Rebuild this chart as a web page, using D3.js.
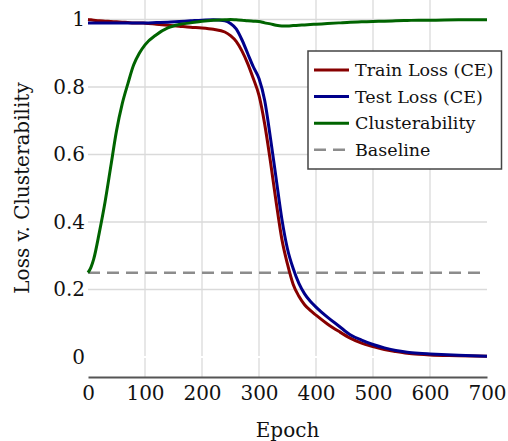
<!DOCTYPE html>
<html>
<head>
<meta charset="utf-8">
<script src="https://cdn.jsdelivr.net/npm/d3@7"></script>
<style>
  body { margin: 0; background: #fff; }
  svg text { font-family: "DejaVu Serif", serif; fill: #111; }
</style>
</head>
<body>
<svg width="508" height="441"></svg>
<script>
// loss vs clusterability over training epochs

var epochs = [0, 5, 10, 20, 30, 40, 50, 60, 70, 80, 90, 100, 120, 140, 160, 180, 200, 220, 240, 250,
              260, 270, 280, 290, 300, 310, 320, 330, 340, 350, 360, 370, 380, 390, 400, 420, 440,
              460, 480, 500, 520, 540, 560, 580, 600, 650, 700];

var trainLoss = [1.0, 0.999, 0.998, 0.996, 0.995, 0.994, 0.993, 0.992, 0.991, 0.99, 0.99, 0.989, 0.986,
                 0.983, 0.98, 0.977, 0.975, 0.971, 0.963, 0.952, 0.935, 0.907, 0.87, 0.825, 0.775,
                 0.69, 0.58, 0.46, 0.35, 0.275, 0.215, 0.18, 0.155, 0.138, 0.124, 0.098, 0.076,
                 0.056, 0.041, 0.031, 0.022, 0.016, 0.011, 0.008, 0.006, 0.004, 0.002];

var testLoss = [0.99, 0.99, 0.99, 0.99, 0.99, 0.99, 0.99, 0.99, 0.99, 0.99, 0.99, 0.99, 0.991,
                0.992, 0.994, 0.996, 0.998, 0.999, 0.996, 0.988, 0.972, 0.94, 0.9, 0.86, 0.825,
                0.76, 0.65, 0.53, 0.41, 0.32, 0.262, 0.218, 0.187, 0.165, 0.148, 0.118, 0.092,
                0.066, 0.05, 0.037, 0.027, 0.019, 0.014, 0.011, 0.009, 0.005, 0.002];

var clusterability = [0.25, 0.265, 0.29, 0.37, 0.46, 0.565, 0.67, 0.75, 0.81, 0.865, 0.9, 0.925, 0.955,
                      0.975, 0.985, 0.99, 0.995, 0.998, 0.999, 1.0, 0.999, 0.998, 0.996, 0.995, 0.994,
                      0.99, 0.987, 0.983, 0.981, 0.981, 0.982, 0.983, 0.984, 0.985, 0.986, 0.988, 0.99,
                      0.992, 0.993, 0.994, 0.995, 0.996, 0.997, 0.998, 0.998, 0.999, 0.999];

var baseline = 0.25;

var xTicks = [0, 100, 200, 300, 400, 500, 600, 700];
var yTicks = [0, 0.2, 0.4, 0.6, 0.8, 1];

var seriesNames = ["Train Loss (CE)", "Test Loss (CE)", "Clusterability", "Baseline"];
var seriesColors = ["#870000", "#00008b", "#006400", "#8c8c8c"];

var svg = d3.select("svg");

// scales
var xScale = d3.scaleLinear().domain([0, 700]).range([88, 487]),
    yScale = d3.scaleLinear().domain([0, 1]).range([357, 19.5]);

var yTop = yScale.invert(0),
    yBottom = yScale.invert(377);

// grid
var grid = svg.append("g");

grid.selectAll("line.vgrid")
    .data(xTicks.filter(function(d) { return d > 0 && d < 700; }))
    .enter().append("line")
    .attr("class", "vgrid")
    .attr("x1", function(d) { return xScale(d); })
    .attr("x2", function(d) { return xScale(d); })
    .attr("y1", yScale(yTop))
    .attr("y2", yScale(yBottom))
    .attr("stroke", "#dadada")
    .attr("stroke-width", 1.3);

grid.selectAll("line.hgrid")
    .data(yTicks)
    .enter().append("line")
    .attr("class", "hgrid")
    .attr("x1", xScale(0))
    .attr("x2", xScale(700))
    .attr("y1", function(d) { return yScale(d); })
    .attr("y2", function(d) { return yScale(d); })
    .attr("stroke", function(d) { return d === 0 ? "#fff" : "#dadada"; })
    .attr("stroke-width", function(d) { return d === 0 ? 2 : 1.3; });

// x axis
var xAxis = d3.axisBottom(xScale).tickValues(xTicks).tickSize(0).tickPadding(9)
              .tickFormat(d3.format("d"));

var xAxisG = svg.append("g")
    .attr("transform", "translate(0," + 377 + ")")
    .call(xAxis);

xAxisG.select(".domain").attr("stroke", "#555").attr("stroke-width", 2);
xAxisG.selectAll("text").attr("font-size", 20).attr("font-family", "DejaVu Serif").attr("fill", "#111");

// y axis
var yAxis = d3.axisLeft(yScale).tickValues(yTicks).tickSize(0).tickPadding(3)
              .tickFormat(function(d) { return d === 0 || d === 1 ? d3.format("d")(d) : d3.format(".1f")(d); });

var yAxisG = svg.append("g")
    .attr("transform", "translate(" + 88 + ",0)")
    .call(yAxis);

yAxisG.select(".domain").remove();
yAxisG.selectAll("text").attr("font-size", 20).attr("font-family", "DejaVu Serif").attr("fill", "#111");

// axis titles
svg.append("text")
   .attr("x", (xScale(0) + xScale(700)) / 2)
   .attr("y", 437)
   .attr("text-anchor", "middle")
   .attr("font-size", 20)
   .text("Epoch");

svg.append("text")
   .attr("transform", "translate(29," + 188 + ") rotate(-90)")
   .attr("text-anchor", "middle")
   .attr("font-size", 20)
   .text("Loss v. Clusterability");

// lines
var line = function(values) {
    return d3.line()
        .x(function(d, i) { return xScale(epochs[i]); })
        .y(function(d) { return yScale(d); })
        .curve(d3.curveMonotoneX)(values);
};

svg.append("line")
   .attr("x1", xScale(0))
   .attr("x2", xScale(700))
   .attr("y1", yScale(baseline))
   .attr("y2", yScale(baseline))
   .attr("stroke", seriesColors[3])
   .attr("stroke-width", 2.5)
   .attr("stroke-dasharray", "12,7");

[trainLoss, testLoss, clusterability].forEach(function(values, i) {
    svg.append("path")
       .attr("d", line(values))
       .attr("fill", "none")
       .attr("stroke", seriesColors[i])
       .attr("stroke-width", 3)
       .attr("stroke-linejoin", "round");
});

// legend
var legend = svg.append("g");

legend.append("rect")
      .attr("x", 308)
      .attr("y", 51)
      .attr("width", 193.5)
      .attr("height", 118)
      .attr("fill", "#fff")
      .attr("stroke", "#444")
      .attr("stroke-width", 1.5);

var rows = legend.selectAll("g.row")
    .data(seriesNames)
    .enter().append("g")
    .attr("class", "row")
    .attr("transform", function(d, i) { return "translate(0," + (70 + i * 26.6) + ")"; });

rows.append("line")
    .attr("x1", 314)
    .attr("x2", 349)
    .attr("stroke", function(d, i) { return seriesColors[i]; })
    .attr("stroke-width", function(d, i) { return i === 3 ? 2.5 : 3; })
    .attr("stroke-dasharray", function(d, i) { return i === 3 ? "12,7" : null; });

rows.append("text")
    .attr("x", 355)
    .attr("y", 6)
    .attr("font-size", 17.5)
    .text(function(d) { return d; });
</script>
</body>
</html>
